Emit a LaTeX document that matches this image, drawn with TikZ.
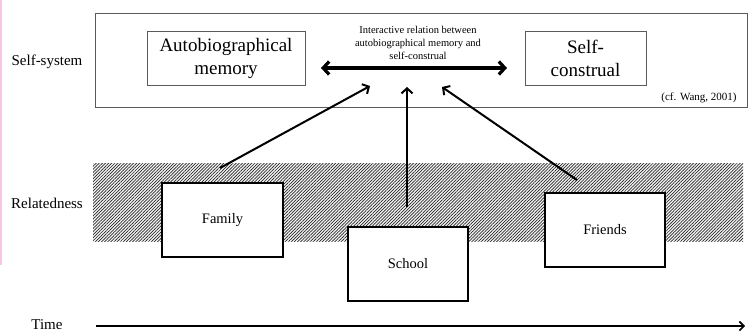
\documentclass[tikz,border=0pt]{standalone}
\usepackage{fontspec}
\setmainfont{Liberation Serif}
\usetikzlibrary{arrows.meta,patterns.meta}
\definecolor{edgepink}{RGB}{248,200,226}
\definecolor{boxgray}{RGB}{90,90,90}
\begin{document}
\begin{tikzpicture}[x=1pt,y=-1pt,
  thinbox/.style={draw=boxgray,line width=0.9pt,fill=white,inner sep=0pt},
  ctxbox/.style={draw=black,line width=2.4pt,fill=white,minimum width=120pt,minimum height=74pt,font=\fontsize{14.5}{17}\selectfont},
  lbl/.style={font=\fontsize{15}{18}\selectfont},
  infl/.style={line width=2pt,-{Straight Barb[length=5pt,width=11pt,line width=2pt]}},
  dbl/.style={line width=3.2pt,{Straight Barb[length=6pt,width=13pt,line width=3.2pt]}-{Straight Barb[length=6pt,width=13pt,line width=3.2pt]}}
]
\useasboundingbox (0,0) rectangle (749,334);
\fill[edgepink] (0,0) rectangle (1.6,265);

% self-system
\node[thinbox,minimum width=652pt,minimum height=94pt] (sys) at (421,60) {};
\node[thinbox,minimum width=158pt,minimum height=54pt,align=center,font=\fontsize{19}{23}\selectfont] (auto) at (226,58) {Autobiographical\\memory};
\node[thinbox,minimum width=121pt,minimum height=54pt,align=center,font=\fontsize{19}{23}\selectfont] (self) at (585.5,58) {Self-\\construal};
\node[align=center,font=\fontsize{10.5}{13}\selectfont] (inter) at (418,43) {Interactive relation between\\autobiographical memory and\\self-construal};
\node[font=\fontsize{11}{13}\selectfont] (cf) at (699,98) {(cf. Wang, 2001)};
\coordinate (dl) at (321,68);
\coordinate (dr) at (507,68);
\draw[dbl] (dl) -- (dr);

% relatedness
\fill[black!4] (93,163) rectangle (743,241);
\fill[pattern={Lines[angle=45,distance=2.2pt,line width=0.7pt]},pattern color=black!85] (93,163) rectangle (743,241);
\node[lbl] (sslbl) at (47,62) {Self-system};
\node[lbl] (rellbl) at (47,203) {Relatedness};
\node[lbl,inner sep=0pt] (timelbl) at (47,325) {Time};

\node[ctxbox,minimum width=121pt] (family) at (222.5,220) {Family};
\node[ctxbox] (school) at (408,264) {School};
\node[ctxbox] (friends) at (605,230) {Friends};

\coordinate (fa0) at (220,168);
\coordinate (fa1) at (370,86);
\coordinate (sa0) at (407,207);
\coordinate (sa1) at (407,87);
\coordinate (ra0) at (577,180);
\coordinate (ra1) at (442,87);
\draw[infl] (fa0) -- (fa1);
\draw[infl] (sa0) -- (sa1);
\draw[infl] (ra0) -- (ra1);

% time axis
\coordinate (t0) at (96,326);
\coordinate (t1) at (745,326);
\draw[line width=1.6pt,-{Straight Barb[length=4.5pt,width=9pt,line width=1.6pt]}] (t0) -- (t1);
\end{tikzpicture}
\end{document}
